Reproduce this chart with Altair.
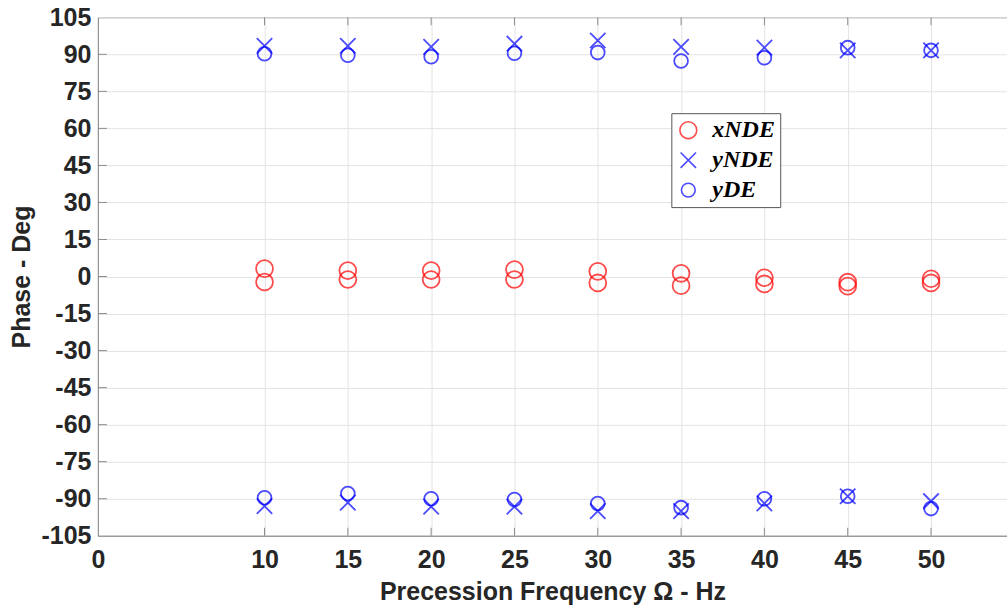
import altair as alt
import pandas as pd

freq = [10, 15, 20, 25, 30, 35, 40, 45, 50]
xNDE_upper = [3.2, 2.4, 2.4, 2.8, 2.1, 1.3, -0.5, -2.3, -0.9]
xNDE_lower = [-2.2, -1.2, -1.2, -1.2, -2.6, -3.7, -3.0, -3.9, -2.6]
yNDE_pos = [93.4, 93.4, 93.0, 94.3, 95.6, 93.0, 92.7, 91.6, 91.6]
yNDE_neg = [-93.0, -91.6, -93.2, -93.2, -95.0, -95.0, -91.9, -89.0, -91.0]
yDE_pos = [90.2, 89.6, 89.0, 90.4, 90.7, 87.3, 88.6, 92.7, 91.6]
yDE_neg = [-89.6, -87.9, -90.0, -90.3, -91.9, -93.6, -90.0, -89.0, -94.0]

series_names = ["xNDE", "yNDE", "yDE"]
x_ticks = [0, 10, 15, 20, 25, 30, 35, 40, 45, 50]
y_ticks = list(range(-105, 106, 15))

rows = []
for vals, name in [(xNDE_upper, "xNDE"), (xNDE_lower, "xNDE"),
                   (yNDE_pos, "yNDE"), (yNDE_neg, "yNDE"),
                   (yDE_pos, "yDE"), (yDE_neg, "yDE")]:
    for f, v in zip(freq, vals):
        rows.append({"freq": f, "phase": v, "series": name})
df = pd.DataFrame(rows)

W, H = 910, 519
AX = "#8c8c8c"
TXT = "#262626"

xscale = alt.Scale(domain=[0, 54.56], nice=False, zero=False)
yscale = alt.Scale(domain=[-105, 105], nice=False, zero=False)

xaxis = alt.Axis(values=x_ticks, tickCount=len(x_ticks),
                 title="Precession Frequency Ω - Hz",
                 titleY=64, titleBaseline="alphabetic",
                 labelFlush=False, labelOverlap=False,
                 labelExpr="datum.value + ''")
yaxis = alt.Axis(values=y_ticks, tickCount=len(y_ticks),
                 title="Phase - Deg",
                 titleX=-76, titleBaseline="middle",
                 labelFlush=False, labelOverlap=False,
                 labelExpr="datum.value + ''")

points = alt.Chart(df).mark_point(filled=False, strokeWidth=1.8).encode(
    x=alt.X("freq:Q", scale=xscale, axis=xaxis),
    y=alt.Y("phase:Q", scale=yscale, axis=yaxis),
    color=alt.Color("series:N",
                    scale=alt.Scale(domain=series_names,
                                    range=["#ff0000", "#0000ff", "#0000ff"]),
                    legend=alt.Legend(title=None)),
    shape=alt.Shape("series:N",
                    scale=alt.Scale(domain=series_names,
                                    range=["circle", "M-1,-1L1,1M1,-1L-1,1", "circle"]),
                    legend=alt.Legend(title=None)),
    size=alt.Size("series:N",
                  scale=alt.Scale(domain=series_names, range=[285, 190, 285]),
                  legend=None),
)

tick_x_df = pd.DataFrame({"t": x_ticks[1:]})
tick_y_df = pd.DataFrame({"t": y_ticks[1:-1]})

bottom_ticks = alt.Chart(tick_x_df).mark_rule(color=AX, strokeWidth=1).encode(
    x=alt.X("t:Q", scale=xscale, axis=xaxis), y=alt.value(H), y2=alt.value(H - 8))
top_ticks = alt.Chart(tick_x_df).mark_rule(color=AX, strokeWidth=1).encode(
    x=alt.X("t:Q", scale=xscale, axis=xaxis), y=alt.value(0), y2=alt.value(8))
left_ticks = alt.Chart(tick_y_df).mark_rule(color=AX, strokeWidth=1).encode(
    y=alt.Y("t:Q", scale=yscale, axis=yaxis), x=alt.value(0), x2=alt.value(9))

chart = alt.layer(points, bottom_ticks, top_ticks, left_ticks).properties(
    width=W, height=H,
    autosize=alt.AutoSizeParams(type="none"),
    padding={"left": 98, "top": 17, "right": 0, "bottom": 73},
).configure_view(
    stroke=AX, strokeWidth=1
).configure_axis(
    grid=True, gridColor="#e3e3e3", gridWidth=1,
    domainColor=AX, domainWidth=1,
    ticks=False,
    labelFont="Liberation Sans", labelFontSize=25, labelFontWeight="bold",
    labelColor=TXT,
    titleFont="Liberation Sans", titleFontSize=25, titleFontWeight="bold",
    titleColor=TXT,
).configure_axisX(
    labelPadding=12,
).configure_axisY(
    labelPadding=7, titleAngle=-90,
).configure_legend(
    orient="none", legendX=574, legendY=96,
    strokeColor="#555555", fillColor="white", padding=5,
    labelFont="Liberation Serif", labelFontSize=24, labelFontStyle="italic",
    labelFontWeight="bold", labelColor="black", labelOffset=12,
    symbolSize=230, symbolStrokeWidth=1.6, rowPadding=6,
    cornerRadius=0,
)

chart.save("out.html", embed_options={"renderer": "svg", "actions": False})
